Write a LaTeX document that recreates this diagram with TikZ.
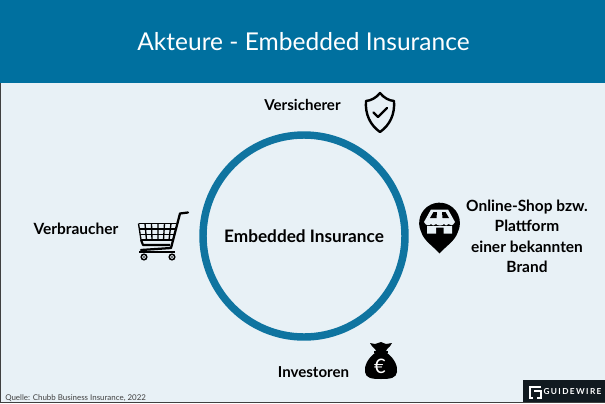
\documentclass[tikz,border=0pt]{standalone}
\usepackage{fontspec}
\setmainfont{Lato}
\definecolor{barblue}{HTML}{00709F}
\definecolor{ringblue}{HTML}{0F74A0}
\definecolor{paleblue}{HTML}{E8F1F6}
\definecolor{logoblack}{HTML}{111A20}
\tikzset{
  lab/.style={font=\fontsize{11.6}{15.3}\selectfont\bfseries,text=black,align=center,inner sep=0pt},
  iconline/.style={draw=black,line width=1.8pt,line join=round,line cap=round,fill=none}
}
\begin{document}
\begin{tikzpicture}[x=0.75pt,y=-0.75pt]
\useasboundingbox (0,0) rectangle (605,403);
\fill[paleblue] (0,0) rectangle (605,403);
\fill[barblue] (0,0) rectangle (605,83);
\draw[black!75,line width=0.6pt] (0.3,83) -- (0.3,403) (0,402.7) -- (605,402.7);
\node[font=\fontsize{18.4}{22}\selectfont,text=white,inner sep=0pt] (title) at (303.5,42) {Akteure - Embedded Insurance};
\node[draw=ringblue,line width=5.6pt,circle,minimum size=202*0.75pt,inner sep=0pt,font=\fontsize{12.9}{15}\selectfont\bfseries] (core) at (304,236) {Embedded Insurance};
\node[lab,font=\fontsize{11.3}{15}\selectfont\bfseries] (vs) at (302.5,105) {Versicherer};
\node[lab] (vb) at (76,228.5) {Verbraucher};
\node[lab] (os) at (527,236.5) {Online-Shop bzw.\\Plattform\\einer bekannten\\Brand};
\node[lab,font=\fontsize{11.3}{15}\selectfont\bfseries] (in) at (313.5,372) {Investoren};
% shield
\draw[iconline] (380,93) .. controls (384,98) and (389,100.5) .. (394,101)
  .. controls (395,114) and (390,125) .. (380,132) .. controls (370,125) and (365,114) .. (366,101)
  .. controls (371,100.5) and (376,98) .. (380,93) -- cycle;
\draw[iconline] (373.5,112.5) -- (378,117) -- (387,108);
% store pin
\fill[black] (421.2,232) arc[start angle=154,end angle=386,radius=20.4]
  .. controls (455,241) and (446,246) .. (439.5,253.5) .. controls (433,246) and (424,241) .. (421.2,232) -- cycle;
\fill[paleblue] (431,209.5) -- (448,209.5) -- (455,222) .. controls (453,226) and (450,226) .. (448.5,224) .. controls (447,226) and (445,226) .. (444,224) .. controls (442,226) and (438,226) .. (436,224) .. controls (434,226) and (432,226) .. (431,224) .. controls (429,226) and (426,226) .. (424,222) -- cycle;
\fill[black] (433.5,212) -- (437,212) -- (436.5,218) -- (430,218) -- cycle;
\fill[black] (442,212) -- (445.5,212) -- (449,218) -- (442.5,218) -- cycle;
\fill[paleblue] (427,226) -- (452,226) -- (452,233.5) -- (443.5,233.5) -- (443.5,227.5) -- (436,227.5) -- (436,233.5) -- (427,233.5) -- cycle;
% cart
\draw[black,line width=1.7pt,line cap=round,line join=round] (188,212.5) -- (180,213.5) -- (171,248) -- (141,250);
\draw[black,line width=1pt,line join=round] (138.5,223.5) -- (176,223.5) (139,229) -- (175,229) (140,234.5) -- (173.5,234.5) (141,240) -- (172,240);
\draw[black,line width=1pt] (138.5,223.5) -- (141,240) (145,223.5) -- (146.5,240) (151.5,223.5) -- (152,240) (158,223.5) -- (158,240) (164.5,223.5) -- (163.5,240) (171,223.5) -- (169,240);
\draw[black,line width=1.6pt,line join=round] (141,240) -- (143,245) -- (170,245);
\draw[black,line width=1.6pt] (139,252) -- (175,252);
\draw[black,line width=1.1pt,fill=paleblue] (144,257) circle[radius=2.8] (172,257) circle[radius=2.8];
\fill[black] (144,257) circle[radius=0.9] (172,257) circle[radius=0.9];
% money bag
\fill[black] (375,353) .. controls (368,358) and (364,366) .. (365,372) .. controls (366,378) and (371,379) .. (381,379) .. controls (391,379) and (396,378) .. (397,372) .. controls (398,366) and (394,358) .. (387,353) -- cycle;
\fill[black] (376,351) -- (386,351) -- (387,349) .. controls (389,347) and (391,346) .. (392,343) -- (386,344) -- (381,342) -- (375,344) -- (370,343) .. controls (371,346) and (373,347) .. (375,349) -- cycle;
\fill[black] (374,350.5) rectangle (388,353);
\node[text=white,font=\fontsize{15}{17}\selectfont,inner sep=0pt] (eur) at (380,366) {€};
% logo
\fill[logoblack] (523,380) rectangle (605,402);
\draw[white,line width=1.2pt] (541,387) -- (530,387) -- (530,398) -- (533,398) (534,391) -- (541,391) -- (541,398) -- (537,398);
\node[text=white,font=\fontsize{6.2}{8}\selectfont\bfseries,inner sep=0pt] (gw) at (572.5,391.5) {G\,U\,I\,D\,E\,W\,I\,R\,E};
\node[anchor=west,text=black!75,font=\fontsize{5.95}{7}\selectfont,inner sep=0pt] (src) at (5,398.5) {Quelle: Chubb Business Insurance, 2022};
\end{tikzpicture}
\end{document}
